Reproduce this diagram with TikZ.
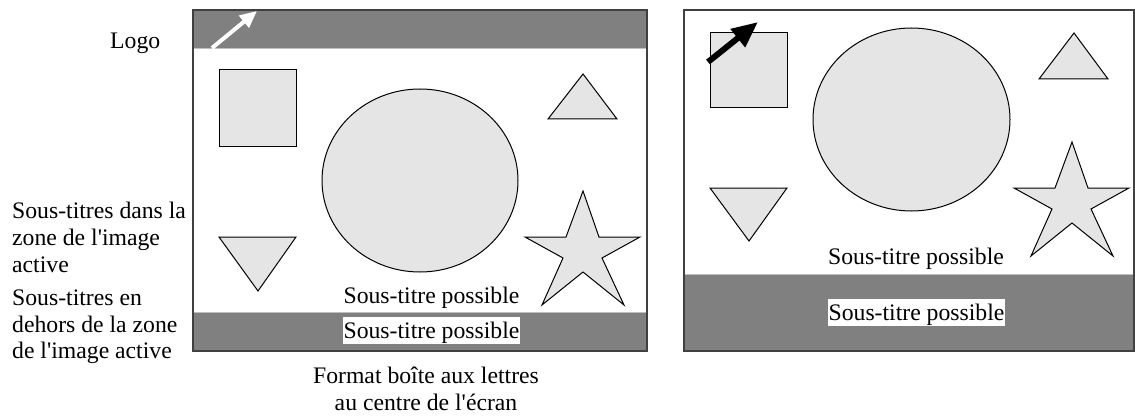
\documentclass[tikz,border=0pt]{standalone}
\usepackage{fontspec}
\setmainfont{Liberation Serif}
\usetikzlibrary{arrows.meta}
\newcommand{\apo}{\textquotesingle}
\begin{document}
\begin{tikzpicture}[x=1pt,y=-1pt,
  lbl/.style={font=\fontsize{23.7}{27}\selectfont, inner sep=0pt},
  band/.style={fill=black!50},
  frameline/.style={draw=black!75, line width=2pt},
  shapefill/.style={fill=black!10, draw=black, line width=1pt, line join=miter},
  boxlbl/.style={lbl, fill=white, text height=21pt, text depth=6pt, inner xsep=1pt},
]
\useasboundingbox (0,0) rectangle (1135,417);
% ---------- left frame (letterbox)
\fill[band] (193,10) rectangle (647,48);
\fill[band] (193,312) rectangle (647,351);
\draw[black!25, line width=0.8pt] (194,48) -- (646,48) (194,312) -- (646,312);
\draw[frameline] (193,10) rectangle (647,351);
\draw[shapefill] (219,70) rectangle (296,147);
\draw[shapefill] (420,180.5) ellipse [x radius=98, y radius=91.5];
\draw[shapefill] (583,74) -- (617,119) -- (548,119) -- cycle;
\draw[shapefill] (219,237) -- (296,237) -- (258,291) -- cycle;
\draw[shapefill] (583,191) -- ++(16,46) -- ++(41,0) -- ++(-38,21) -- ++(22,47)
  -- ++(-41,-33) -- ++(-41,33) -- ++(21,-47) -- ++(-38,-21) -- ++(41,0) -- cycle;
\coordinate (wa1) at (212,48);
\coordinate (wa2) at (257,11);
\draw[white, line width=4pt, -{Triangle[length=17pt,width=15pt]}] (wa1) -- (wa2);
\node[lbl, anchor=base] (stl1) at (431.5,303) {Sous-titre possible};
\node[boxlbl, anchor=base] (stl2) at (431.5,338) {Sous-titre possible};
% ---------- right frame
\fill[band] (684,274) rectangle (1134,351);
\draw[black!25, line width=0.8pt] (685,274) -- (1133,274);
\draw[frameline] (684,10) rectangle (1134,351);
\draw[shapefill] (710,33) rectangle (787,108);
\draw[shapefill] (911.5,119.5) ellipse [x radius=98.5, y radius=91.5];
\draw[shapefill] (1074,33) -- (1108,79) -- (1039,79) -- cycle;
\draw[shapefill] (710,188) -- (787,188) -- (749,241) -- cycle;
\draw[shapefill] (1072,142) -- ++(16,46) -- ++(41,0) -- ++(-38,21) -- ++(22,47)
  -- ++(-41,-33) -- ++(-41,33) -- ++(21,-47) -- ++(-38,-21) -- ++(41,0) -- cycle;
\coordinate (ba1) at (708,62);
\coordinate (ba2) at (758,22);
\draw[black, line width=6pt, -{Triangle[length=26pt,width=22pt]}] (ba1) -- (ba2);
\node[lbl, anchor=base] (str1) at (916,264) {Sous-titre possible};
\node[boxlbl, anchor=base] (str2) at (916.5,320) {Sous-titre possible};
% ---------- side labels
\node[lbl, anchor=base west] (logo) at (110,49) {Logo};
\node[lbl, anchor=base west] (a1) at (12,218) {Sous-titres dans la};
\node[lbl, anchor=base west] (a2) at (12,245) {zone de l\apo image};
\node[lbl, anchor=base west] (a3) at (12,272) {active};
\node[lbl, anchor=base west] (b1) at (12,305) {Sous-titres en};
\node[lbl, anchor=base west] (b2) at (12,332) {dehors de la zone};
\node[lbl, anchor=base west] (b3) at (12,358) {de l\apo image active};
\node[lbl, anchor=base] (c1) at (426,383) {Format boîte aux lettres};
\node[lbl, anchor=base] (c2) at (426,410) {au centre de l\apo écran};
\end{tikzpicture}
\end{document}
